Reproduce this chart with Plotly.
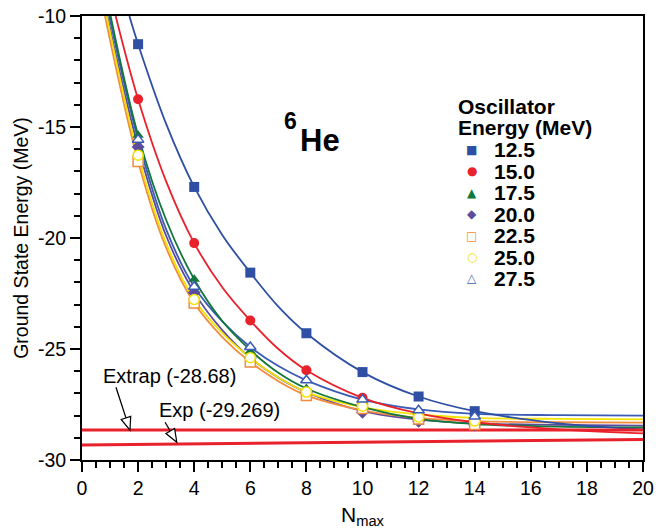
import plotly.graph_objects as go

# ---------------- data ----------------
n_points = [2, 4, 6, 8, 10, 12, 14]
series_names = ["12.5", "15.0", "17.5", "20.0", "22.5", "25.0", "27.5"]

e_12_5 = [-11.27, -17.70, -21.56, -24.29, -26.04, -27.14, -27.80]
e_15_0 = [-13.75, -20.23, -23.72, -25.96, -27.20, -27.90, -28.30]
e_17_5 = [-15.37, -21.86, -25.10, -26.78, -27.62, -28.30, -28.45]
e_20_0 = [-15.90, -22.45, -25.40, -26.95, -27.85, -28.25, -28.42]
e_22_5 = [-16.55, -22.93, -25.59, -27.09, -27.68, -28.15, -28.40]
e_25_0 = [-16.27, -22.77, -25.39, -26.94, -27.58, -28.06, -28.24]
e_27_5 = [-15.57, -22.20, -24.91, -26.41, -27.28, -27.76, -28.04]

# fitted curves
fit_n_12_5 = [1.69, 2, 3, 4, 5, 6, 7, 8, 10, 12, 14, 17, 20]
fit_e_12_5 = [-10, -11.27, -14.86, -17.70, -19.86, -21.56, -23.09, -24.29, -26.04, -27.14, -27.80, -28.35, -28.62]
fit_n_15_0 = [1.20, 2, 3, 4, 5, 6, 7, 8, 10, 12, 14, 17, 20]
fit_e_15_0 = [-10, -13.75, -17.45, -20.23, -22.22, -23.72, -25.00, -25.96, -27.20, -27.90, -28.30, -28.62, -28.80]
fit_n_17_5 = [1.02, 2, 3, 4, 5, 6, 7, 8, 10, 12, 14, 17, 20]
fit_e_17_5 = [-10, -15.37, -19.19, -21.86, -23.74, -25.05, -26.07, -26.78, -27.62, -28.15, -28.38, -28.50, -28.53]
fit_n_20_0 = [0.90, 2, 3, 4, 5, 6, 7, 8, 10, 12, 14, 17, 20]
fit_e_20_0 = [-10, -15.90, -19.90, -22.45, -24.15, -25.40, -26.29, -26.95, -27.80, -28.18, -28.35, -28.42, -28.45]
fit_n_22_5 = [0.82, 2, 3, 4, 5, 6, 7, 8, 10, 12, 14, 17, 20]
fit_e_22_5 = [-10, -16.55, -20.44, -22.93, -24.46, -25.59, -26.45, -27.09, -27.76, -28.10, -28.25, -28.30, -28.32]
fit_n_25_0 = [0.88, 2, 3, 4, 5, 6, 7, 8, 10, 12, 14, 17, 20]
fit_e_25_0 = [-10, -16.27, -20.23, -22.77, -24.27, -25.39, -26.28, -26.94, -27.62, -27.95, -28.10, -28.15, -28.17]
fit_n_27_5 = [0.97, 2, 3, 4, 5, 6, 7, 8, 10, 12, 14, 17, 20]
fit_e_27_5 = [-10, -15.57, -19.61, -22.20, -23.76, -24.91, -25.77, -26.41, -27.28, -27.72, -27.92, -27.98, -28.00]

ref_n = [0, 20]
extrap_e = [-28.65, -28.65]
exp_e = [-29.32, -29.08]
extrap_label = "Extrap (-28.68)"
exp_label = "Exp (-29.269)"

x_tick_vals = [0, 2, 4, 6, 8, 10, 12, 14, 16, 18, 20]
x_tick_text = ["0", "2", "4", "6", "8", "10", "12", "14", "16", "18", "20"]
y_tick_vals = [-30, -25, -20, -15, -10]
y_tick_text = ["-30", "-25", "-20", "-15", "-10"]

# ---------------- styles ----------------
BLUE = "#2E4FA3"
RED = "#E8212B"
GREEN = "#12773A"
PURPLE = "#5D4B9D"
ORANGE = "#F28B3B"
YELLOW = "#F2E205"
BLUE2 = "#3B5CB5"
FONT = "Liberation Sans, Arial, Helvetica, sans-serif"

pts = [e_12_5, e_15_0, e_17_5, e_20_0, e_22_5, e_25_0, e_27_5]
fits = [(fit_n_12_5, fit_e_12_5), (fit_n_15_0, fit_e_15_0), (fit_n_17_5, fit_e_17_5),
        (fit_n_20_0, fit_e_20_0), (fit_n_22_5, fit_e_22_5), (fit_n_25_0, fit_e_25_0),
        (fit_n_27_5, fit_e_27_5)]
colors = [BLUE, RED, GREEN, PURPLE, ORANGE, YELLOW, BLUE2]
symbols = ["square", "circle", "triangle-up", "diamond", "square", "circle", "triangle-up"]
filled = [True, True, True, True, False, False, False]
glyphs = ["\u25A0", "\u25CF", "\u25B2", "\u25C6", "\u25A1", "\u25CB", "\u25B3"]

fig = go.Figure()

curve_order = [3, 4, 5, 6, 2, 1, 0]
for i in curve_order:
    fn, fe = fits[i]
    fig.add_trace(go.Scatter(x=fn, y=fe, mode="lines", line=dict(color=colors[i], width=1.8, shape="spline", smoothing=1.0),
                             showlegend=False, hoverinfo="skip"))

fig.add_trace(go.Scatter(x=ref_n, y=extrap_e, mode="lines", line=dict(color=RED, width=3), showlegend=False))
fig.add_trace(go.Scatter(x=ref_n, y=exp_e, mode="lines", line=dict(color=RED, width=3), showlegend=False))

for i in range(7):
    if filled[i]:
        mk = dict(symbol=symbols[i], size=10, color=colors[i], line=dict(width=0))
    else:
        mk = dict(symbol=symbols[i], size=10, color="white", line=dict(width=1.5, color=colors[i]))
    fig.add_trace(go.Scatter(x=n_points, y=pts[i], mode="markers", marker=mk, name=series_names[i], showlegend=False))

# ---------------- layout helpers (pixel -> paper) ----------------
L, R, T, B = 82, 22, 16, 69
W, H = 665, 529
PW, PH = W - L - R, H - T - B


def px(x):
    return (x - L) / PW


def py(y):
    return (H - B - y) / PH


ann = []
ann.append(dict(x=px(100.5), y=py(376), xref="paper", yref="paper", xanchor="left", yanchor="middle",
                text=extrap_label, showarrow=False, font=dict(size=20, color="black", family=FONT)))
ann.append(dict(x=px(157), y=py(410), xref="paper", yref="paper", xanchor="left", yanchor="middle",
                text=exp_label, showarrow=False, font=dict(size=20, color="black", family=FONT)))
ann.append(dict(x=px(282), y=py(121), xref="paper", yref="paper", xanchor="left", yanchor="middle",
                text="<b>6</b>", showarrow=False, font=dict(size=23, color="black", family=FONT)))
ann.append(dict(x=px(298), y=py(140), xref="paper", yref="paper", xanchor="left", yanchor="middle",
                text="<b>He</b>", showarrow=False, font=dict(size=31, color="black", family=FONT)))
ann.append(dict(x=px(456), y=py(106), xref="paper", yref="paper", xanchor="left", yanchor="middle",
                text="<b>Oscillator</b>", showarrow=False, font=dict(size=21, color="black", family=FONT)))
ann.append(dict(x=px(456), y=py(127), xref="paper", yref="paper", xanchor="left", yanchor="middle",
                text="<b>Energy (MeV)</b>", showarrow=False, font=dict(size=21, color="black", family=FONT)))
leg_y = [149.5, 171, 192.5, 214, 235.5, 257, 278]
for i in range(7):
    ann.append(dict(x=px(471.5), y=py(leg_y[i]), xref="paper", yref="paper", xanchor="center", yanchor="middle",
                    text=glyphs[i], showarrow=False, font=dict(size=12, color=colors[i], family="DejaVu Sans")))
    ann.append(dict(x=px(492), y=py(leg_y[i]), xref="paper", yref="paper", xanchor="left", yanchor="middle",
                    text="<b>" + series_names[i] + "</b>", showarrow=False,
                    font=dict(size=21, color="black", family=FONT)))

shapes = []
# arrows: line + open triangular head, in pixel units anchored at the tip
arrows = [
    dict(tip=(1.71, -28.66), tail=(-14, 43), base=(-4.03, 12.36), c1=(0.73, 13.91), c2=(-8.79, 10.81)),
    dict(tip=(3.38, -29.20), tail=(-11.7, 20), base=(-6.55, 11.2), c1=(-2.24, 13.72), c2=(-10.86, 8.68)),
]
for a in arrows:
    shapes.append(dict(type="line", xref="x", yref="y", xsizemode="pixel", ysizemode="pixel",
                       xanchor=a["tip"][0], yanchor=a["tip"][1],
                       x0=a["tail"][0], y0=a["tail"][1], x1=a["base"][0], y1=a["base"][1],
                       line=dict(color="black", width=1.3), layer="above"))
    path = "M 0,0 L {},{} L {},{} Z".format(a["c1"][0], a["c1"][1], a["c2"][0], a["c2"][1])
    shapes.append(dict(type="path", xref="x", yref="y", xsizemode="pixel", ysizemode="pixel",
                       xanchor=a["tip"][0], yanchor=a["tip"][1], path=path,
                       fillcolor="white", line=dict(color="black", width=1.2), layer="above"))

axis_common = dict(showgrid=False, zeroline=False, showline=True, linecolor="black", linewidth=2, mirror=True,
                   ticks="outside", tickcolor="black", tickwidth=1.5, ticklen=10, automargin=False,
                   tickfont=dict(size=19.5, color="black", family=FONT))

fig.update_layout(
    width=W, height=H,
    margin=dict(l=L, r=R, t=T, b=B, autoexpand=False),
    paper_bgcolor="white", plot_bgcolor="white",
    showlegend=False,
    font=dict(family=FONT, color="black"),
    xaxis=dict(range=[0, 20], tickmode="array", tickvals=x_tick_vals, ticktext=x_tick_text,
               minor=dict(ticks="outside", dtick=0.5, tick0=0, ticklen=6, tickwidth=1.5, tickcolor="black"),
               title=dict(text="N<sub>max</sub>", font=dict(size=21, color="black", family=FONT), standoff=10),
               **axis_common),
    yaxis=dict(range=[-30, -10], tickmode="array", tickvals=y_tick_vals, ticktext=y_tick_text,
               minor=dict(ticks="outside", dtick=1, tick0=-30, ticklen=6, tickwidth=1.5, tickcolor="black"),
               title=dict(text="Ground State Energy (MeV)", font=dict(size=19.5, color="black", family=FONT), standoff=4),
               **axis_common),
    annotations=ann,
    shapes=shapes,
)

fig.write_html("out.html")
